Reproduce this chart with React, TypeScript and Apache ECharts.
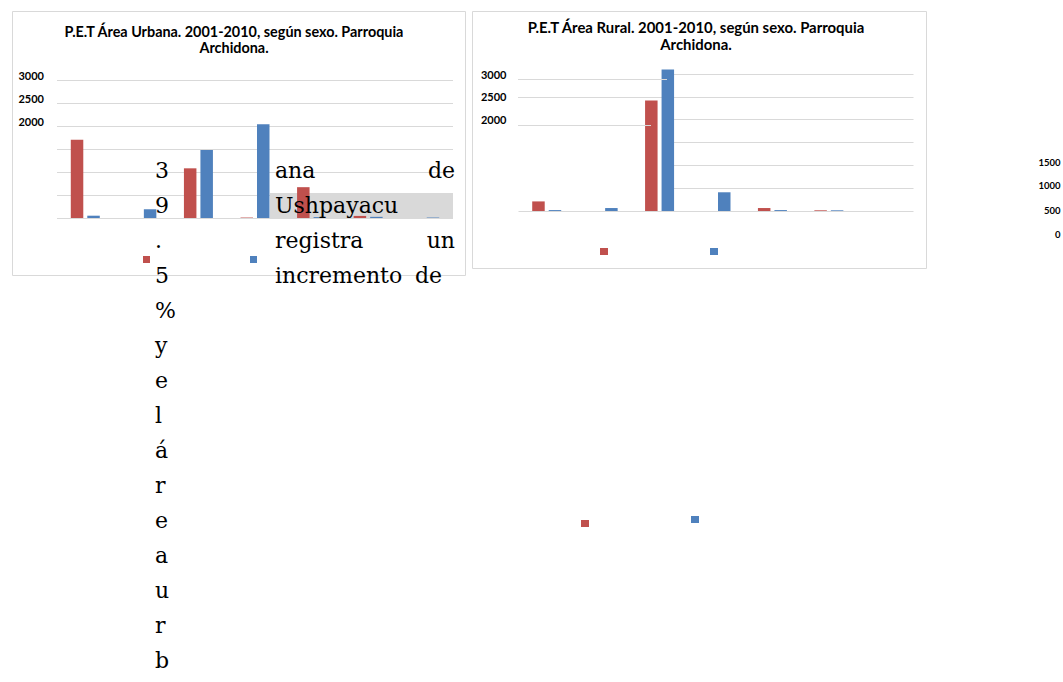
import React, { useEffect, useRef } from "react";
import * as echarts from "echarts";

// ---------- data ----------
const categories = ["C1", "C2", "C3", "C4", "C5", "C6", "C7"];
const seriesNames = ["Hombre", "Mujer"];
const urbanRed = [1700, 0, 1080, 10, 670, 45, 0];
const urbanBlue = [50, 190, 1480, 2040, 20, 25, 10];
const ruralRed = [210, 0, 2420, 0, 65, 15, 0];
const ruralBlue = [20, 65, 3100, 410, 20, 15, 0];
const shownTicks = ["3000", "2500", "2000"];
const strayTicks = ["1500", "1000", "500", "0"];
const urbanTitle = "P.E.T Área Urbana. 2001-2010, según sexo. Parroquia\nArchidona.";
const ruralTitle = "P.E.T Área Rural. 2001-2010, según sexo. Parroquia\nArchidona.";
const columnChars = ["3", "9", ".", "5", "%", "y", "e", "l", "á", "r", "e", "a", "u", "r", "b"];
const leftWords = ["ana", "Ushpayacu", "registra", "incremento"];
const rightWords = ["de", "", "un", "de"];

const RED = "#C0504D";
const BLUE = "#4F81BD";
const GRID = "#d9d9d9";

export default function App() {
  const ref = useRef<HTMLDivElement>(null);
  useEffect(() => {
    if (!ref.current) return;
    const chart = echarts.init(ref.current, undefined, { renderer: "svg" });

    const serif = "'DejaVu Serif', serif";
    const sans = "Lato, 'Open Sans', sans-serif";
    const graphics: any[] = [];

    // panel borders
    graphics.push({ type: "rect", z: 0, shape: { x: 12.5, y: 11.5, width: 453, height: 264 }, style: { fill: "rgba(0,0,0,0)", stroke: GRID, lineWidth: 1 } });
    graphics.push({ type: "rect", z: 0, shape: { x: 472.5, y: 11.5, width: 454, height: 257 }, style: { fill: "rgba(0,0,0,0)", stroke: GRID, lineWidth: 1 } });

    // overlay in rural chart hiding part of gridlines
    graphics.push({ type: "rect", z: 1, shape: { x: 518, y: 70, width: 156, height: 129 }, style: { fill: "#fff" } });
    graphics.push({ type: "line", z: 1.5, shape: { x1: 518, y1: 97.5, x2: 674, y2: 97.5 }, style: { stroke: GRID, lineWidth: 1 } });
    graphics.push({ type: "line", z: 5, shape: { x1: 518, y1: 79.5, x2: 667, y2: 79.5 }, style: { stroke: GRID, lineWidth: 1 } });
    graphics.push({ type: "line", z: 5, shape: { x1: 518, y1: 125.5, x2: 651, y2: 125.5 }, style: { stroke: GRID, lineWidth: 1 } });

    // highlight box behind "Ushpayacu"
    graphics.push({ type: "rect", z: 1, shape: { x: 270, y: 193, width: 183, height: 26 }, style: { fill: "#d9d9d9" } });

    // legend markers (no text)
    const markers = [
      [143, 256, 7, 7, RED], [250, 256, 7, 7, BLUE],
      [600, 248, 8, 7, RED], [710, 248, 8, 7, BLUE],
      [581, 520, 8, 7, RED], [691, 516, 8, 7, BLUE],
    ];
    markers.forEach(([x, y, w, h, c]) => {
      graphics.push({ type: "rect", z: 5, shape: { x, y, width: w, height: h }, style: { fill: c } });
    });

    // stray tick labels at far right
    const strayY = [162, 185, 210, 234];
    strayTicks.forEach((t, i) => {
      graphics.push({ type: "text", z: 5, x: 1060.5, y: strayY[i], style: { text: t, align: "right", verticalAlign: "middle", font: `bold 9.5px ${sans}`, fill: "#000" } });
    });

    // paragraph fragments
    columnChars.forEach((ch, i) => {
      graphics.push({ type: "text", z: 10, x: 155, y: 170.7 + 35 * i, style: { text: ch, align: "left", verticalAlign: "middle", font: `22px ${serif}`, fill: "#000" } });
    });
    leftWords.forEach((w, i) => {
      graphics.push({ type: "text", z: 10, x: 275, y: 170.7 + 35 * i, style: { text: w, align: "left", verticalAlign: "middle", font: `22px ${serif}`, fill: "#000" } });
    });
    rightWords.forEach((w, i) => {
      if (!w) return;
      const last = i === rightWords.length - 1;
      graphics.push({ type: "text", z: 10, x: last ? 442 : 455, y: 170.7 + 35 * i, style: { text: w, align: "right", verticalAlign: "middle", font: `22px ${serif}`, fill: "#000" } });
    });

    const yAxisBase = (grid: number, margin: number, raised: boolean) => ({
      type: "value",
      gridIndex: grid,
      min: 0,
      max: 3000,
      interval: 500,
      axisLine: { show: false },
      axisTick: { show: false },
      splitLine: { lineStyle: { color: GRID, width: 1 } },
      axisLabel: {
        formatter: (v: number) => (shownTicks.includes(String(v)) ? String(v) : ""),
        fontFamily: sans,
        fontWeight: "bold",
        fontSize: 11,
        color: "#000",
        margin,
        verticalAlign: raised ? "bottom" : "middle",
        lineHeight: raised ? 10 : 13,
      },
    });
    const xAxisBase = (grid: number) => ({
      type: "category",
      gridIndex: grid,
      data: categories,
      axisLine: { show: false },
      axisTick: { show: false },
      axisLabel: { show: false },
    });
    const bar = (name: string, data: number[], color: string, idx: number) => ({
      type: "bar",
      name,
      data,
      xAxisIndex: idx,
      yAxisIndex: idx,
      barWidth: 12.5,
      barGap: "32%",
      clip: false,
      itemStyle: { color },
    });

    chart.setOption({
      animation: false,
      title: [
        { text: urbanTitle, left: 234, top: 23, textAlign: "center", padding: 0, textStyle: { fontFamily: sans, fontWeight: "bold", fontSize: 14.4, lineHeight: 16.4, color: "#000" } },
        { text: ruralTitle, left: 696, top: 19, textAlign: "center", padding: 0, textStyle: { fontFamily: sans, fontWeight: "bold", fontSize: 14.9, lineHeight: 16.9, color: "#000" } },
      ],
      grid: [
        { left: 57, top: 80, width: 396, height: 138 },
        { left: 518.5, top: 74, width: 395, height: 137 },
      ],
      xAxis: [xAxisBase(0), xAxisBase(1)],
      yAxis: [yAxisBase(0, 13, true), yAxisBase(1, 12, false)],
      series: [
        bar(seriesNames[0], urbanRed, RED, 0),
        bar(seriesNames[1], urbanBlue, BLUE, 0),
        bar(seriesNames[0], ruralRed, RED, 1),
        bar(seriesNames[1], ruralBlue, BLUE, 1),
      ],
      graphic: { elements: graphics },
    });
    return () => chart.dispose();
  }, []);
  return <div ref={ref} style={{ position: "absolute", left: 0, top: 0, width: 1063, height: 682, background: "#fff" }} />;
}
